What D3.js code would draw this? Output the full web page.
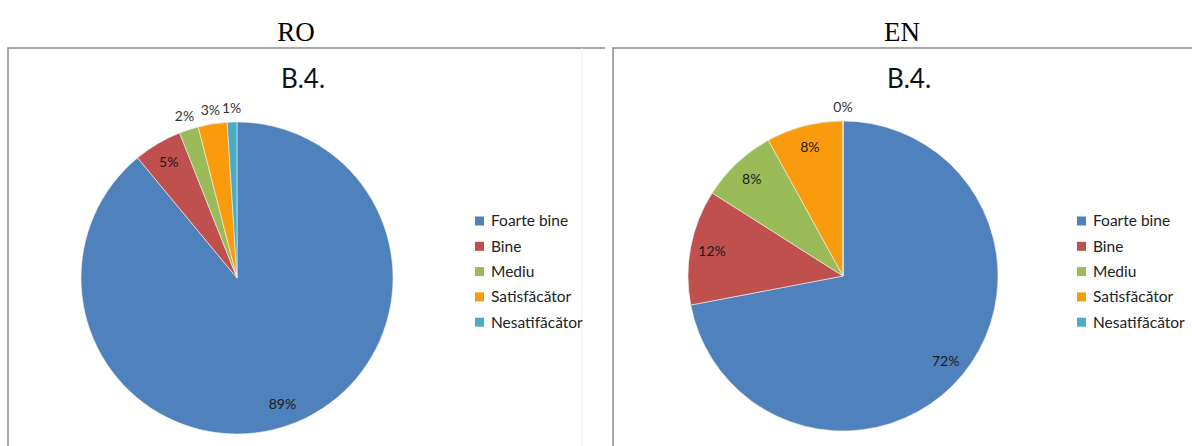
<!DOCTYPE html>
<html>
<head>
<meta charset="utf-8">
<script src="https://cdn.jsdelivr.net/npm/d3@7"></script>
<style>
  body { margin: 0; background: #fff; }
  svg text { font-family: Lato, "Open Sans", sans-serif; }
</style>
</head>
<body>
<div id="chart"></div>
<script>
// Drawing area, same as the screenshot
const w = 1192;
const h = 446;

// Data
const categories = ["Foarte bine", "Bine", "Mediu", "Satisfăcător", "Nesatifăcător"];
const roValues = [89, 5, 2, 3, 1];
const enValues = [72, 12, 8, 8, 0];
const panelHeadings = ["RO", "EN"];
const chartTitles = ["B.4.", "B.4."];
// which labels go outside the pie (small slices)
const roOutside = [false, false, true, true, true];
const enOutside = [false, false, false, false, true];

const colors = ["#4f81bd", "#c0504d", "#9bbb59", "#f99b0c", "#4bacc6"];
const colorScale = d3.scaleOrdinal().domain(categories).range(colors);

const svg = d3.select("#chart").append("svg")
  .attr("width", w)
  .attr("height", h);

// panel settings: frame, pie centre, legend position
const panels = [
  { heading: panelHeadings[0], title: chartTitles[0], values: roValues, outside: roOutside,
    headX: 296, frameX: 8, frameRight: 605, sideLine: 582,
    cx: 237, cy: 278, r: 156, titleX: 303, legendX: 475 },
  { heading: panelHeadings[1], title: chartTitles[1], values: enValues, outside: enOutside,
    headX: 902, frameX: 613, frameRight: 1200, sideLine: null,
    cx: 843, cy: 276, r: 155, titleX: 909, legendX: 1077 }
];

const pie = d3.pie().sort(null).value(d => d.value);

panels.forEach(p => {
  const data = categories.map((c, i) => ({ cat: c, value: p.values[i], outside: p.outside[i] }));

  // heading above the frame (serif like the document text)
  svg.append("text")
    .attr("x", p.headX)
    .attr("y", 41)
    .attr("text-anchor", "middle")
    .style("font-family", "'Liberation Serif', 'Times New Roman', serif")
    .style("font-size", "27px")
    .text(p.heading);

  // frame of the chart
  svg.append("path")
    .attr("d", `M${p.frameX},${h} V48 H${p.frameRight}`)
    .attr("fill", "none")
    .attr("stroke", "#8a8a8a")
    .attr("stroke-width", 1.5);

  if (p.sideLine) {
    svg.append("line")
      .attr("x1", p.sideLine).attr("x2", p.sideLine)
      .attr("y1", 48).attr("y2", h)
      .attr("stroke", "#ececec")
      .attr("stroke-width", 1);
  }

  svg.append("text")
    .attr("x", p.titleX)
    .attr("y", 88)
    .attr("text-anchor", "middle")
    .style("font-size", "26px")
    .attr("fill", "#111")
    .text(p.title);

  const g = svg.append("g").attr("transform", `translate(${p.cx},${p.cy})`);
  const arcs = pie(data);
  const arc = d3.arc().innerRadius(0).outerRadius(p.r);
  const inLabel = d3.arc().innerRadius(p.r * 0.86).outerRadius(p.r * 0.86);
  const outLabel = d3.arc().innerRadius(p.r * 1.09).outerRadius(p.r * 1.09);

  g.selectAll("path.slice")
    .data(arcs)
    .enter()
    .append("path")
    .attr("class", "slice")
    .attr("d", arc)
    .attr("fill", d => colorScale(d.data.cat))
    .attr("stroke", "#f2f2f2")
    .attr("stroke-width", 0.6);

  g.selectAll("text.lbl")
    .data(arcs)
    .enter()
    .append("text")
    .attr("class", "lbl")
    .attr("transform", d => `translate(${(d.data.outside ? outLabel : inLabel).centroid(d)})`)
    .attr("text-anchor", "middle")
    .attr("dy", "0.35em")
    .style("font-size", "14px")
    .attr("fill", d => d.data.outside ? "#333" : "#1a1a1a")
    .text(d => d.data.value + "%");

  // legend
  const legend = svg.append("g").attr("transform", `translate(${p.legendX},221)`);
  const rows = legend.selectAll("g")
    .data(categories)
    .enter()
    .append("g")
    .attr("transform", (d, i) => `translate(0,${i * 25.3})`);

  rows.append("rect")
    .attr("x", 0).attr("y", -4.5)
    .attr("width", 9).attr("height", 9)
    .attr("fill", d => colorScale(d));

  rows.append("text")
    .attr("x", 16)
    .attr("dy", "0.35em")
    .style("font-size", "15.5px")
    .attr("fill", "#222")
    .text(d => d);
});
</script>
</body>
</html>
